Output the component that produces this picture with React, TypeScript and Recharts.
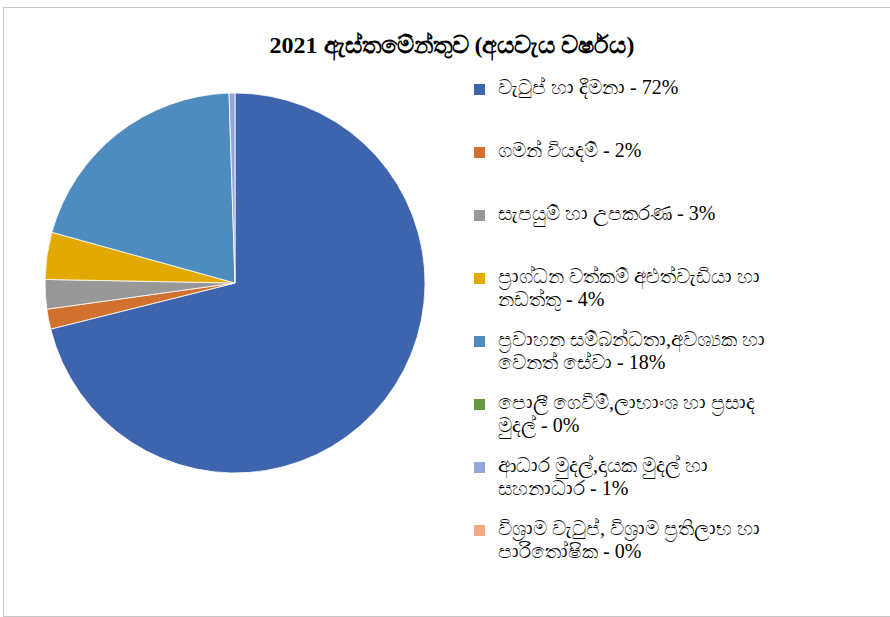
import React from 'react';
import { PieChart, Pie, Cell, Legend } from 'recharts';

const title = '2021 ඇස්තමේන්තුව (අයවැය වර්ෂය)';

const categories = [
  'වැටුප් හා දීමනා - 72%',
  'ගමන් වියදම් - 2%',
  'සැපයුම් හා උපකරණ - 3%',
  'ප්‍රාග්ධන වත්කම් අළුත්වැඩියා හා\nනඩත්තු - 4%',
  'ප්‍රවාහන සම්බන්ධතා,අවශ්‍යක හා\nවෙනත් සේවා - 18%',
  'පොලී ගෙවීම්,ලාභාංශ හා ප්‍රසාද\nමුදල් - 0%',
  'ආධාර මුදල්,දායක මුදල් හා\nසහනාධාර - 1%',
  'විශ්‍රාම වැටුප්, විශ්‍රාම ප්‍රතිලාභ හා\nපාරිතෝෂික - 0%',
];

const values = [71.1, 1.7, 2.5, 4.0, 20.2, 0, 0.5, 0];

const colors = ['#3D64AD', '#D2702E', '#989898', '#E2AA00', '#4E8BBE', '#64993F', '#93A8D8', '#F1A889'];

const data = categories.map((name, i) => ({ name, value: values[i], color: colors[i] }));

const font = '"Liberation Serif", "Times New Roman", serif';

function LegendBox() {
  return (
    <div style={{ position: 'relative', width: 320, height: 500 }}>
      {data.map((d, i) => (
        <div key={i} style={{ position: 'absolute', left: 0, top: i * 63, display: 'flex', alignItems: 'flex-start' }}>
          <div style={{ width: 11, height: 11, background: d.color, marginTop: 8, marginRight: 13, flexShrink: 0 }} />
          <div style={{ fontFamily: font, fontSize: 20, lineHeight: '23px', color: '#000', whiteSpace: 'pre-line' }}>
            {d.name}
          </div>
        </div>
      ))}
    </div>
  );
}

export default function App() {
  return (
    <div style={{ position: 'absolute', left: 3, top: 7, width: 900, height: 608, border: '1px solid #c8c8c8', background: '#fff' }}>
      <div style={{ position: 'absolute', left: 0, top: 24, width: 896, textAlign: 'center', fontFamily: font, fontWeight: 'bold', fontSize: 24, color: '#000' }}>
        {title}
      </div>
      <PieChart width={896} height={606} margin={{ top: 0, right: 0, bottom: 0, left: 0 }}>
        <Pie
          data={data}
          dataKey="value"
          nameKey="name"
          cx={231}
          cy={275}
          outerRadius={190}
          startAngle={90}
          endAngle={-270}
          stroke="#ffffff"
          strokeWidth={0.8}
          isAnimationActive={false}
        >
          {data.map((d, i) => <Cell key={i} fill={d.color} />)}
        </Pie>
        <Legend
          layout="vertical"
          align="right"
          verticalAlign="top"
          content={() => <LegendBox />}
          wrapperStyle={{ left: 470, top: 68, width: 320 }}
        />
      </PieChart>
    </div>
  );
}
